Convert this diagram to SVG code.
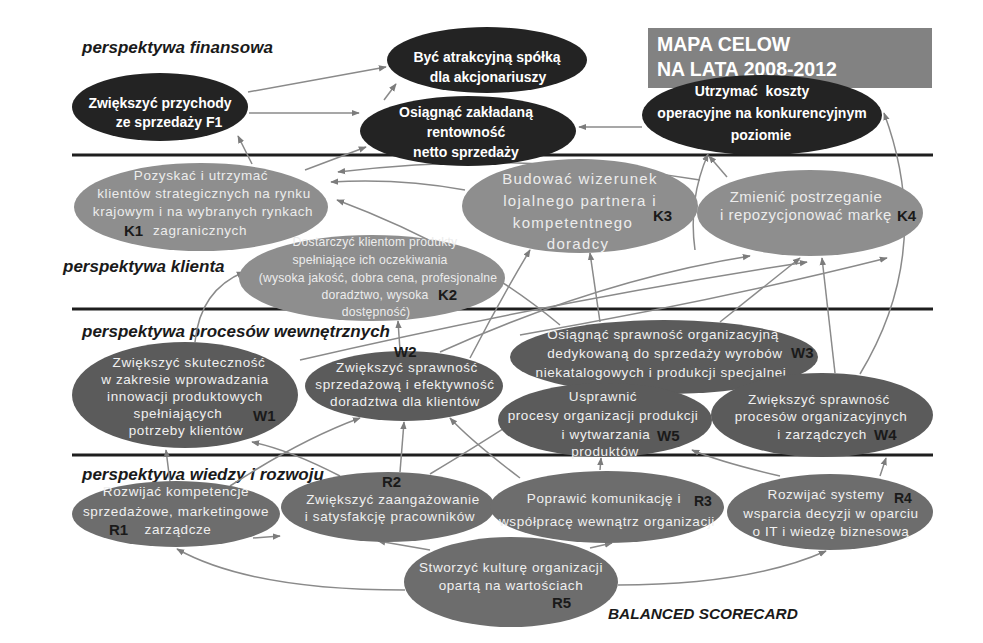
<svg xmlns="http://www.w3.org/2000/svg" width="983" height="643" viewBox="0 0 983 643">
<defs>
<marker id="a" viewBox="0 0 10 10" refX="9" refY="5" markerWidth="8" markerHeight="8" markerUnits="userSpaceOnUse" orient="auto">
<path d="M0,1 L10,5 L0,9 z" fill="#7c7c7c"/>
</marker>
<style>
.sep{stroke:#1e1e1e;stroke-width:3}
.fin{fill:#232323}
.cli{fill:#8e8e8e}
.pro{fill:#5b5b5b}
.lrn{fill:#6d6d6d}
.t{font-family:"Liberation Sans",Arial,sans-serif;text-anchor:middle}
.tw{fill:#ffffff;font-size:14px;font-weight:bold}
.tk{fill:#ececec;font-size:13.5px;letter-spacing:0.6px}
.tk2{fill:#ececec;font-size:12.2px;letter-spacing:0.2px}
.tk3{fill:#ececec;font-size:15px;letter-spacing:1.3px}
.tk4{fill:#ececec;font-size:15px;letter-spacing:0.5px}
.tp{fill:#f0f0f0;font-size:13.5px;letter-spacing:0.6px}
.lab{font-family:"Liberation Sans",Arial,sans-serif;fill:#1a1a1a;font-size:15px;font-weight:bold}
.lab14{font-family:"Liberation Sans",Arial,sans-serif;fill:#1a1a1a;font-size:14px;font-weight:bold}
.sec{font-family:"Liberation Sans",Arial,sans-serif;font-style:italic;font-weight:bold;font-size:17px;fill:#1a1a1a}
.bsc{font-family:"Liberation Sans",Arial,sans-serif;font-style:italic;font-weight:bold;font-size:15.4px;fill:#1a1a1a}
.c{fill:none;stroke:#8a8a8a;stroke-width:1.5;marker-end:url(#a)}
</style>
</defs>
<rect width="983" height="643" fill="#ffffff"/>

<g id="separators">
<line class="sep" x1="72" y1="155" x2="933" y2="155"/>
<line class="sep" x1="72" y1="309" x2="933" y2="309"/>
<line class="sep" x1="72" y1="455" x2="933" y2="455"/>
</g>

<g id="title">
<rect x="648" y="28" width="284" height="60" fill="#828282"/>
<text x="657" y="51" font-family="Liberation Sans,Arial,sans-serif" font-size="19.5" font-weight="bold" fill="#ffffff">MAPA CELOW</text>
<text x="657" y="76" font-family="Liberation Sans,Arial,sans-serif" font-size="19.5" font-weight="bold" fill="#ffffff">NA LATA 2008-2012</text>
</g>

<g id="section-labels">
<text class="sec" x="82" y="53">perspektywa finansowa</text>
<text class="sec" x="63" y="272">perspektywa klienta</text>
<text class="sec" x="82" y="337">perspektywa procesów wewnętrznych</text>
<text class="sec" x="82" y="480">perspektywa wiedzy i rozwoju</text>
<text class="bsc" x="608" y="619">BALANCED SCORECARD</text>
</g>

<g id="connectors">
<path class="c" d="M248,92 L386,67"/>
<path class="c" d="M249,113 L359,113"/>
<path class="c" d="M384,100 L396,84"/>
<path class="c" d="M642,127 L579,127"/>
<path class="c" d="M252,164 L238,136"/>
<path class="c" d="M305,170 L366,147"/>
<path class="c" d="M465,190 Q400,178 331,182"/>
<path class="c" d="M700,180 Q520,150 338,172"/>
<path class="c" d="M560,325 Q470,250 337,200"/>
<path class="c" d="M695,250 Q688,200 708,154"/>
<path class="c" d="M727,177 L709,156"/>
<path class="c" d="M195,342 Q200,290 244,272"/>
<path class="c" d="M400,350 L398,321"/>
<path class="c" d="M470,358 Q500,300 530,250"/>
<path class="c" d="M440,352 Q600,280 750,256"/>
<path class="c" d="M300,360 Q560,300 807,262"/>
<path class="c" d="M520,335 Q720,300 887,258"/>
<path class="c" d="M600,322 L590,253"/>
<path class="c" d="M720,322 Q760,290 800,258"/>
<path class="c" d="M835,373 L822,258"/>
<path class="c" d="M860,374 Q935,250 884,113"/>
<path class="c" d="M170,482 L166,450"/>
<path class="c" d="M230,486 Q300,440 360,418"/>
<path class="c" d="M340,476 Q290,450 252,442"/>
<path class="c" d="M400,472 L404,422"/>
<path class="c" d="M430,474 Q520,420 560,390"/>
<path class="c" d="M520,478 Q470,440 450,418"/>
<path class="c" d="M600,470 L601,458"/>
<path class="c" d="M880,476 L886,458"/>
<path class="c" d="M780,476 Q720,462 692,450"/>
<path class="c" d="M253,538 L280,536"/>
<path class="c" d="M405,590 Q250,590 177,549"/>
<path class="c" d="M618,585 Q750,585 826,551"/>
<path class="c" d="M430,550 L378,541"/>
<path class="c" d="M590,548 L612,543"/>
</g>

<g id="F1">
<ellipse class="fin" cx="160" cy="107" rx="88" ry="34"/>
<text class="t tw" x="160" y="108">Zwiększyć przychody</text>
<text class="t tw" x="169" y="127">ze sprzedaży F1</text>
</g>
<g id="F2">
<ellipse class="fin" cx="487" cy="60" rx="100" ry="33"/>
<text class="t tw" x="487" y="62">Być atrakcyjną spółką</text>
<text class="t tw" x="488" y="82">dla akcjonariuszy</text>
</g>
<g id="F3">
<ellipse class="fin" cx="468" cy="131" rx="108" ry="35"/>
<text class="t tw" x="466" y="117">Osiągnąć zakładaną</text>
<text class="t tw" x="466" y="137">rentowność</text>
<text class="t tw" x="466" y="157">netto sprzedaży</text>
</g>
<g id="F4">
<ellipse class="fin" cx="762" cy="115" rx="120" ry="40"/>
<text class="t tw" x="752" y="96" xml:space="preserve">Utrzymać  koszty</text>
<text class="t tw" x="762" y="118">operacyjne na konkurencyjnym</text>
<text class="t tw" x="761" y="140">poziomie</text>
</g>

<g id="K1">
<ellipse class="cli" cx="201" cy="207" rx="127" ry="44"/>
<text class="t tk" x="201" y="180">Pozyskać i utrzymać</text>
<text class="t tk" x="204" y="198">klientów strategicznych na rynku</text>
<text class="t tk" x="203" y="216">krajowym i na wybranych rynkach</text>
<text class="t tk" x="200" y="235">zagranicznych</text>
<text class="lab" x="124" y="236">K1</text>
</g>
<g id="K2">
<ellipse class="cli" cx="372" cy="278" rx="133" ry="43"/>
<text class="t tk2" x="375" y="246">Dostarczyć klientom produkty</text>
<text class="t tk2" x="370" y="264">spełniające ich oczekiwania</text>
<text class="t tk2" x="378" y="282">(wysoka jakość, dobra cena, profesjonalne</text>
<text class="t tk2" x="375" y="299">doradztwo, wysoka</text>
<text class="t tk2" x="376" y="316">dostępność)</text>
<text class="lab" x="438" y="300">K2</text>
</g>
<g id="K3">
<ellipse class="cli" cx="580" cy="206" rx="118" ry="47"/>
<text class="t tk3" x="580" y="184">Budować wizerunek</text>
<text class="t tk3" x="580" y="206">lojalnego partnera i</text>
<text class="t tk3" x="573" y="228">kompetentnego</text>
<text class="t tk3" x="578" y="249">doradcy</text>
<text class="lab" x="653" y="221">K3</text>
</g>
<g id="K4">
<ellipse class="cli" cx="810" cy="213" rx="113" ry="43"/>
<text class="t tk4" x="806" y="202">Zmienić postrzeganie</text>
<text class="t tk4" x="806" y="220">i repozycjonować markę</text>
<text class="lab" x="897" y="221">K4</text>
</g>

<g id="W1">
<ellipse class="pro" cx="185" cy="395" rx="113" ry="53"/>
<text class="t tp" x="189" y="367">Zwiększyć skuteczność</text>
<text class="t tp" x="185" y="384">w zakresie wprowadzania</text>
<text class="t tp" x="185" y="401">innowacji produktowych</text>
<text class="t tp" x="178" y="418">spełniających</text>
<text class="t tp" x="186" y="435">potrzeby klientów</text>
<text class="lab" x="253" y="421">W1</text>
</g>
<g id="W2">
<ellipse class="pro" cx="404" cy="386" rx="99" ry="35"/>
<text class="t tp" x="407" y="372">Zwiększyć sprawność</text>
<text class="t tp" x="405" y="389">sprzedażową i efektywność</text>
<text class="t tp" x="405" y="406">doradztwa dla klientów</text>
<text class="lab" x="394" y="357">W2</text>
</g>
<g id="W3">
<ellipse class="pro" cx="664" cy="357" rx="154" ry="37"/>
<text class="t tp" x="663" y="339">Osiągnąć sprawność organizacyjną</text>
<text class="t tp" x="665" y="358">dedykowaną do sprzedaży wyrobów</text>
<text class="t tp" x="661" y="377">niekatalogowych i produkcji specjalnej</text>
<text class="lab" x="791" y="358">W3</text>
</g>
<g id="W5">
<ellipse class="pro" cx="605" cy="420" rx="107" ry="37"/>
<text class="t tp" x="603" y="401">Usprawnić</text>
<text class="t tp" x="603" y="420">procesy organizacji produkcji</text>
<text class="t tp" x="606" y="439">i wytwarzania</text>
<text class="t tp" x="605" y="456">produktów</text>
<text class="lab" x="657" y="441">W5</text>
</g>
<g id="W4">
<ellipse class="pro" cx="822" cy="415" rx="111" ry="42"/>
<text class="t tp" x="819" y="404">Zwiększyć sprawność</text>
<text class="t tp" x="821" y="421">procesów organizacyjnych</text>
<text class="t tp" x="822" y="439">i zarządczych</text>
<text class="lab" x="874" y="440">W4</text>
</g>

<g id="R1">
<ellipse class="lrn" cx="176" cy="514" rx="104" ry="33"/>
<text class="t tp" x="176" y="496">Rozwijać kompetencje</text>
<text class="t tp" x="176" y="516">sprzedażowe, marketingowe</text>
<text class="t tp" x="178" y="534">zarządcze</text>
<text class="lab" x="109" y="535">R1</text>
</g>
<g id="R2">
<ellipse class="lrn" cx="388" cy="507" rx="107" ry="35"/>
<text class="t tp" x="393" y="504">Zwiększyć zaangażowanie</text>
<text class="t tp" x="390" y="521">i satysfakcję pracowników</text>
<text class="lab" x="382" y="487">R2</text>
</g>
<g id="R3">
<ellipse class="lrn" cx="607" cy="507" rx="117" ry="36"/>
<text class="t tp" x="604" y="503">Poprawić komunikację i</text>
<text class="t tp" x="607" y="526">współpracę wewnątrz organizacji</text>
<text class="lab14" x="694" y="506">R3</text>
</g>
<g id="R4">
<ellipse class="lrn" cx="830" cy="512" rx="103" ry="38"/>
<text class="t tp" x="826" y="499">Rozwijać systemy</text>
<text class="t tp" x="831" y="518">wsparcia decyzji w oparciu</text>
<text class="t tp" x="831" y="536">o IT i wiedzę biznesową</text>
<text class="lab14" x="894" y="503">R4</text>
</g>
<g id="R5">
<ellipse class="lrn" cx="511" cy="582" rx="107" ry="45"/>
<text class="t tp" x="511" y="572">Stworzyć kulturę organizacji</text>
<text class="t tp" x="511" y="590">opartą na wartościach</text>
<text class="lab" x="552" y="608">R5</text>
</g>
</svg>
